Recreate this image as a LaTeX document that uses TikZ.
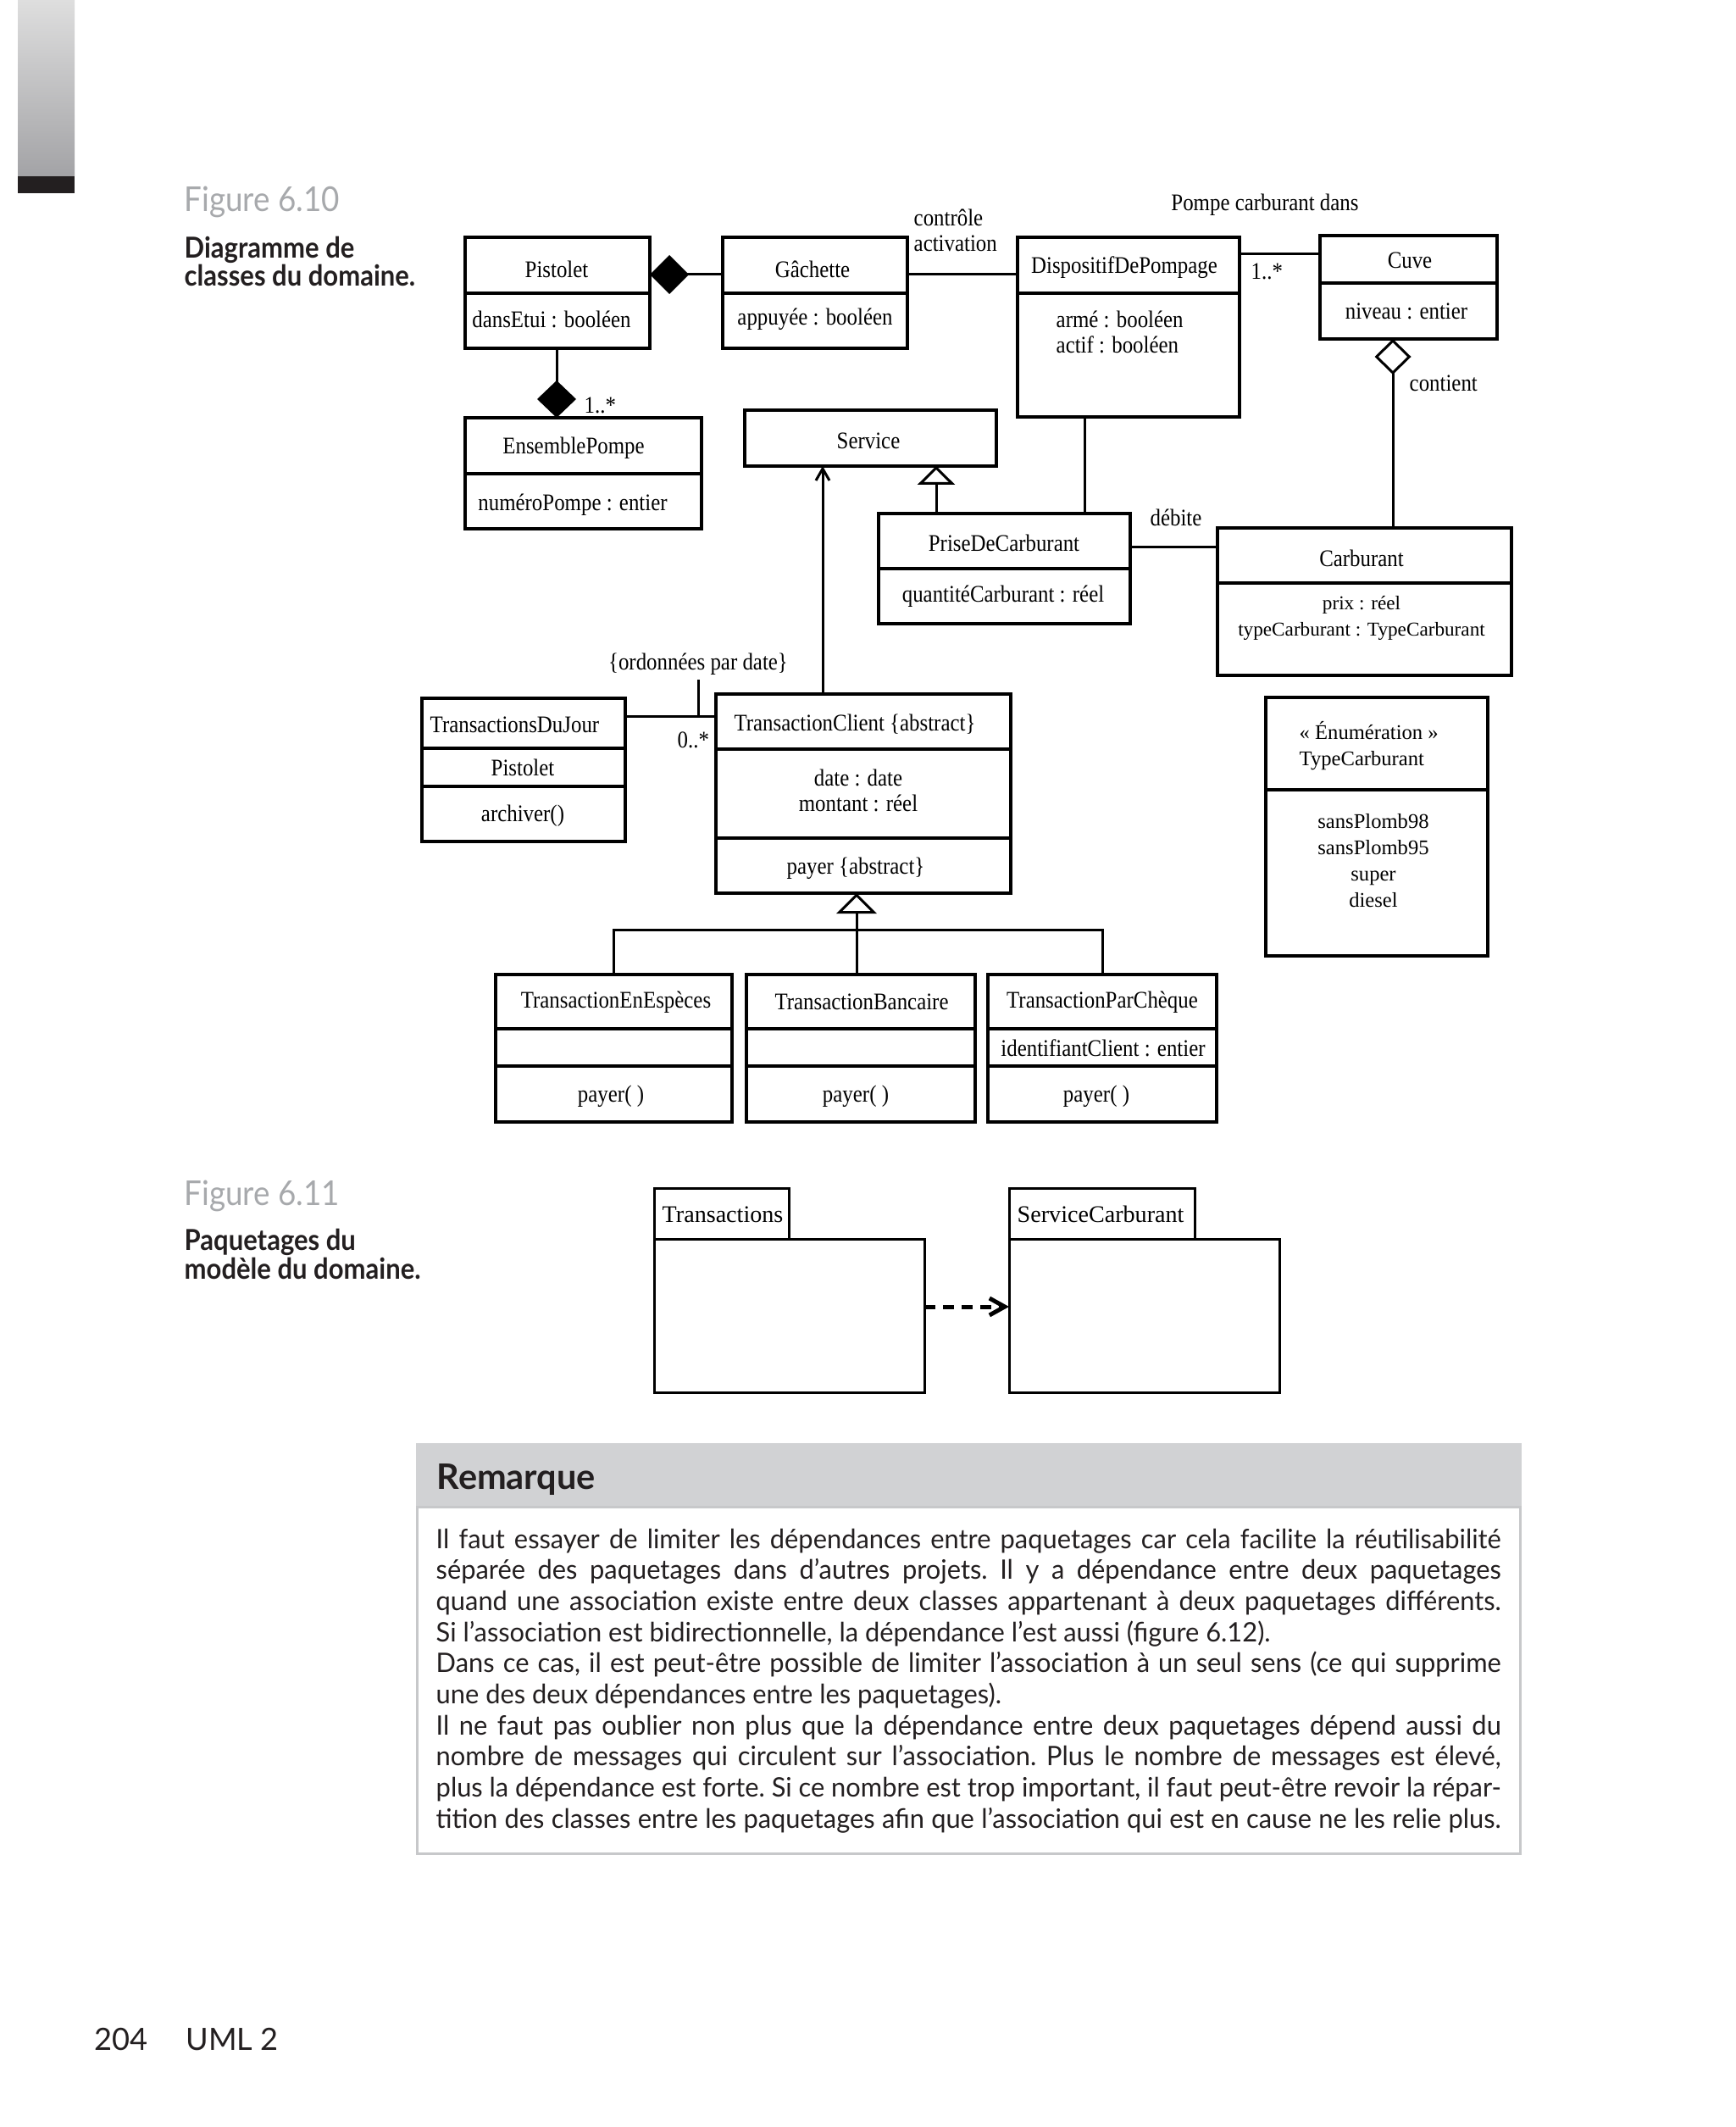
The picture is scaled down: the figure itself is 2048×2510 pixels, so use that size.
\documentclass[tikz,border=0pt]{standalone}
\usepackage{fontspec}
\setmainfont{Liberation Serif}
\newfontfamily\umlfont[FakeStretch=0.885]{Liberation Serif}
\newfontfamily\plainserif{Liberation Serif}
\newfontfamily\capsans[FakeStretch=0.91]{Lato}
\newfontfamily\headsans{Lato}
\newfontfamily\bodysans[FakeStretch=0.975]{Lato}
\usetikzlibrary{arrows.meta,fit}
\definecolor{ink}{HTML}{231F20}
\definecolor{capgray}{HTML}{A7A9AC}
\definecolor{boxgray}{HTML}{D1D2D4}
\definecolor{bordgray}{HTML}{C7C8CA}
\definecolor{barlight}{HTML}{DEDEDE}
\definecolor{bardark}{HTML}{A3A3A6}
\tikzset{
  cls/.style={draw=black, line width=0.35mm, inner sep=0pt, outer sep=0pt},
  pkg/.style={draw=black, line width=0.3mm, inner sep=0pt, outer sep=0pt},
  cdiv/.style={line width=0.35mm},
  assoc/.style={line width=0.3mm},
  dep/.style={line width=0.5mm, dash pattern=on 1.3mm off 0.9mm, -{Straight Barb[length=1.8mm,width=2mm,line width=0.5mm]}},
  ut/.style={font=\umlfont\fontsize{8}{8.53}\selectfont, inner sep=0pt, text=black},
  enumt/.style={font=\plainserif\fontsize{7}{8.8}\selectfont, inner sep=0pt, text=black},
  carbt/.style={font=\plainserif\fontsize{6.6}{8.8}\selectfont, inner sep=0pt, text=black},
  pkgt/.style={font=\plainserif\fontsize{8}{9}\selectfont, inner sep=0pt, text=black},
  figcap/.style={font=\capsans\fontsize{11.5}{12}\selectfont, text=capgray, inner sep=0pt, anchor=base west},
  figtitle/.style={font=\capsans\bfseries\fontsize{9.7}{10}\selectfont, text=ink, inner sep=0pt, anchor=base west},
  bodyline/.style={font=\bodysans\frenchspacing\fontsize{9}{10.44}\selectfont, text=ink, inner sep=0pt, anchor=base west},
}
\newcommand{\jline}[1]{\makebox[125.7mm][s]{#1}}
\begin{document}
\begin{tikzpicture}[x=0.1mm,y=-0.1mm]
\useasboundingbox (0,0) rectangle (2048,2510);
\fill[white] (0,0) rectangle (2048,2510);

% side bar
\shade[top color=barlight, bottom color=bardark] (21,0) rectangle (88,208);
\fill[ink] (21,208) rectangle (88,228);

% captions
\node[figcap] (fig10) at (217,250) {Figure 6.10};
\node[figtitle] (fig10a) at (217,305) {Diagramme de};
\node[figtitle] (fig10b) at (217,338) {classes du domaine.};
\node[figcap] (fig11) at (217,1422) {Figure 6.11};
\node[figtitle] (fig11a) at (217,1475) {Paquetages du};
\node[figtitle] (fig11b) at (217,1509) {modèle du domaine.};

% helper coordinates
\coordinate (h324) at (0,324);
\coordinate (h300) at (0,300);
\coordinate (h646) at (0,646);
\coordinate (h845) at (0,845);
\coordinate (h1542) at (0,1542);
\coordinate (v657) at (657,0);
\coordinate (v1280) at (1280,0);
\coordinate (v1105) at (1105,0);
\coordinate (v1644) at (1644,0);
\coordinate (v971) at (971,0);
\coordinate (junc) at (1011,1097);
\coordinate (tick) at (824,802);

% classes
\node[cls, fit={(549,280) (767,411)}] (pist) {};
\draw[cdiv] (549,346) -- (767,346);
\node[ut] (pistN) at (657,318) {Pistolet};
\node[ut] (pistA) at (651,377) {dansEtui : booléen};

\node[cls, fit={(853,280) (1071,411)}] (gach) {};
\draw[cdiv] (853,346) -- (1071,346);
\node[ut] (gachN) at (959,318) {Gâchette};
\node[ut] (gachA) at (962,377) {appuyée : booléen};

\node[cls, fit={(1201,280) (1463,492)}] (disp) {};
\draw[cdiv] (1201,346) -- (1463,346);
\node[ut] (dispN) at (1327,316) {DispositifDePompage};
\node[ut, anchor=west, align=left] (dispA) at (1246,392) {armé : booléen\\actif : booléen};

\node[cls, fit={(1558,278) (1767,400)}] (cuve) {};
\draw[cdiv] (1558,334) -- (1767,334);
\node[ut] (cuveN) at (1664,307) {Cuve};
\node[ut] (cuveA) at (1660,367) {niveau : entier};

\node[cls, fit={(549,493) (828,624)}] (ens) {};
\draw[cdiv] (549,559) -- (828,559);
\node[ut] (ensN) at (677,529) {EnsemblePompe};
\node[ut] (ensA) at (676,596) {numéroPompe : entier};

\node[cls, fit={(879,484) (1176,550)}] (serv) {};
\node[ut] (servN) at (1025,520) {Service};

\node[cls, fit={(1037,606) (1334,736)}] (prise) {};
\draw[cdiv] (1037,671) -- (1334,671);
\node[ut] (priseN) at (1185,641) {PriseDeCarburant};
\node[ut] (priseA) at (1184,704) {quantitéCarburant : réel};

\node[cls, fit={(1437,623) (1784,797)}] (carb) {};
\draw[cdiv] (1437,688) -- (1784,688);
\node[ut] (carbN) at (1607,659) {Carburant};
\node[carbt, align=center] (carbA) at (1607,729.5) {prix : réel\\typeCarburant : TypeCarburant};

\node[cls, fit={(1494,823) (1756,1128)}] (enum) {};
\draw[cdiv] (1494,932) -- (1756,932);
\node[enumt, anchor=west, align=left] (enumN) at (1533,880.5) {« Énumération »\\TypeCarburant};
\node[enumt, align=center] (enumV) at (1621,1015.5) {sansPlomb98\\sansPlomb95\\super\\diesel};

\node[cls, fit={(498,824) (738,993)}] (tdj) {};
\draw[cdiv] (498,883) -- (738,883);
\draw[cdiv] (498,928) -- (738,928);
\node[ut, anchor=west] (tdjN) at (507,855) {TransactionsDuJour};
\node[ut] (tdjA) at (617,906) {Pistolet};
\node[ut] (tdjO) at (617,963) {archiver()};

\node[cls, fit={(845,819) (1193,1054)}] (tc) {};
\draw[cdiv] (845,884) -- (1193,884);
\draw[cdiv] (845,989) -- (1193,989);
\node[ut] (tcN) at (1009,855) {TransactionClient \{abstract\}};
\node[ut, align=center] (tcA) at (1013,933) {date : date\\montant : réel};
\node[ut] (tcO) at (1010,1025) {payer \{abstract\}};

\node[cls, fit={(585,1150) (864,1324)}] (tee) {};
\draw[cdiv] (585,1214) -- (864,1214);
\draw[cdiv] (585,1258) -- (864,1258);
\node[ut] (teeN) at (727,1183) {TransactionEnEspèces};
\node[ut] (teeO) at (721,1294) {payer( )};

\node[cls, fit={(881,1150) (1151,1324)}] (tb) {};
\draw[cdiv] (881,1214) -- (1151,1214);
\draw[cdiv] (881,1258) -- (1151,1258);
\node[ut] (tbN) at (1017,1182) {TransactionBancaire};
\node[ut] (tbO) at (1010,1294) {payer( )};

\node[cls, fit={(1166,1150) (1436,1324)}] (tpc) {};
\draw[cdiv] (1166,1214) -- (1436,1214);
\draw[cdiv] (1166,1258) -- (1436,1258);
\node[ut] (tpcN) at (1301,1183) {TransactionParChèque};
\node[ut] (tpcA) at (1302,1237) {identifiantClient : entier};
\node[ut] (tpcO) at (1294,1294) {payer( )};

% association labels
\node[ut, anchor=west, align=left] (lblctl) at (1078,272) {contrôle\\activation};
\node[ut] (lblpompe) at (1493,242) {Pompe carburant dans};
\node[ut, anchor=west] (mult1) at (1476,320) {1..*};
\node[ut, anchor=west] (mult2) at (689,478) {1..*};
\node[ut, anchor=west] (lblcont) at (1663,452) {contient};
\node[ut] (lbldeb) at (1388,611) {débite};
\node[ut] (lblord) at (824,784) {\{ordonnées par date\}};
\node[ut, anchor=west] (mult3) at (799,873) {0..*};

% connectors
\draw[assoc, {Diamond[length=4.6mm,width=4.6mm]}-] (pist.east |- h324) -- (gach.west |- h324);
\draw[assoc] (gach.east |- h324) -- (disp.west |- h324);
\draw[assoc] (disp.east |- h300) -- (cuve.west |- h300);
\draw[assoc, {Diamond[length=4.4mm,width=4.6mm]}-] (ens.north -| v657) -- (pist.south -| v657);
\draw[assoc] (disp.south -| v1280) -- (prise.north -| v1280);
\draw[assoc, -{Triangle[open,length=2.2mm,width=4.4mm]}] (prise.north -| v1105) -- (serv.south -| v1105);
\draw[assoc] (prise.east |- h646) -- (carb.west |- h646);
\draw[assoc, {Diamond[open,length=4.2mm,width=4.3mm]}-] (cuve.south -| v1644) -- (carb.north -| v1644);
\draw[assoc, -{Straight Barb[length=1.4mm,width=1.6mm]}] (tc.north -| v971) -- (serv.south -| v971);
\draw[assoc] (tdj.east |- h845) -- (tc.west |- h845);
\draw[assoc] (tick) -- (tick |- h845);
\draw[assoc] (tee.north) -- (tee.north |- junc) -- (tpc.north |- junc) -- (tpc.north);
\draw[assoc, -{Triangle[open,length=2.4mm,width=4.7mm]}] (junc |- tb.north) -- (junc |- tc.south);

% packages
\node[pkg, fit={(772,1402) (931,1462)}] (ptabT) {};
\node[pkg, fit={(772,1462) (1091,1643)}] (pT) {};
\node[pkg, fit={(1191,1402) (1410,1462)}] (ptabS) {};
\node[pkg, fit={(1191,1462) (1510,1643)}] (pS) {};
\node[pkgt, anchor=west] (pTN) at (781,1433) {Transactions};
\node[pkgt, anchor=west] (pSN) at (1200,1433) {ServiceCarburant};
\draw[dep] (pT.east |- h1542) -- (pS.west |- h1542);

% Remarque box
\fill[boxgray] (491,1703) rectangle (1796,1778);
\draw[bordgray, line width=0.3mm] (492.5,1778) rectangle (1794.5,2187.5);
\node[font=\headsans\bfseries\fontsize{11.8}{12}\selectfont, text=ink, inner sep=0pt, anchor=base west] (remT) at (515,1757) {Remarque};
\node[bodyline] (b1) at (514,1827) {\jline{Il faut essayer de limiter les dépendances entre paquetages car cela facilite la réutilisabilité}};
\node[bodyline] (b2) at (514,1863.7) {\jline{séparée des paquetages dans d’autres projets. Il y a dépendance entre deux paquetages}};
\node[bodyline] (b3) at (514,1900.4) {\jline{quand une association existe entre deux classes appartenant à deux paquetages différents.}};
\node[bodyline] (b4) at (514,1937.1) {Si l’association est bidirectionnelle, la dépendance l’est aussi (figure 6.12).};
\node[bodyline] (b5) at (514,1973.8) {\jline{Dans ce cas, il est peut-être possible de limiter l’association à un seul sens (ce qui supprime}};
\node[bodyline] (b6) at (514,2010.5) {une des deux dépendances entre les paquetages).};
\node[bodyline] (b7) at (514,2047.2) {\jline{Il ne faut pas oublier non plus que la dépendance entre deux paquetages dépend aussi du}};
\node[bodyline] (b8) at (514,2083.9) {\jline{nombre de messages qui circulent sur l’association. Plus le nombre de messages est élevé,}};
\node[bodyline] (b9) at (514,2120.6) {\jline{plus la dépendance est forte. Si ce nombre est trop important, il faut peut-être revoir la répar-}};
\node[bodyline] (b10) at (514,2157.3) {\jline{tition des classes entre les paquetages afin que l’association qui est en cause ne les relie plus.}};

% folio
\node[font=\headsans\fontsize{10.3}{11}\selectfont, text=ink, inner sep=0pt, anchor=base west] (folio) at (111,2419) {204};
\node[font=\headsans\fontsize{10.3}{11}\selectfont, text=ink, inner sep=0pt, anchor=base west] (running) at (219,2419) {UML 2};
\end{tikzpicture}
\end{document}
